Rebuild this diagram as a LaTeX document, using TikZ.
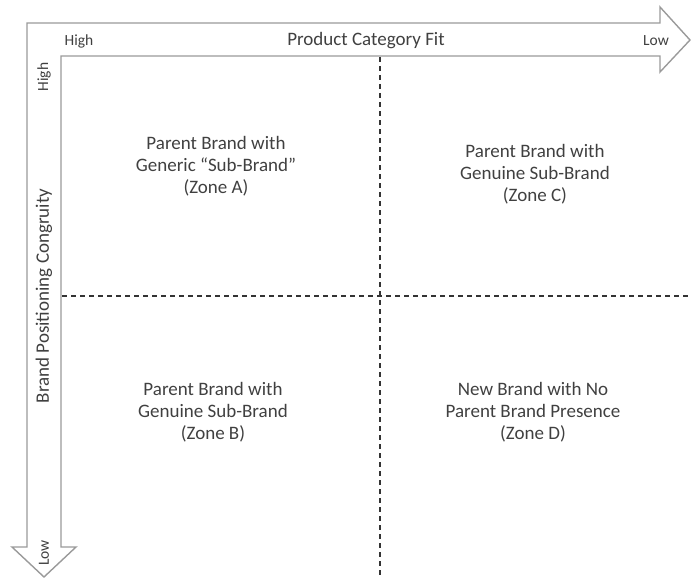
\documentclass[tikz,border=0pt]{standalone}
\usepackage{fontspec}
\setmainfont{Carlito}
\definecolor{edgegray}{HTML}{9A9A9A}
\definecolor{txtgray}{HTML}{404040}
\definecolor{dashgray}{HTML}{333333}
\begin{document}
\begin{tikzpicture}[x=1pt,y=-1pt,
  zone/.style={align=center,text=txtgray,font=\fontsize{19}{22}\selectfont},
  axislab/.style={text=txtgray,font=\fontsize{19}{21}\selectfont},
  small/.style={text=txtgray,font=\fontsize{15.5}{17}\selectfont},
  divider/.style={draw=dashgray,line width=1.3pt,dash pattern=on 5pt off 4pt}]
\useasboundingbox (0,0) rectangle (691,578);
% L-shaped double arrow
\draw[edgegray,line width=1.4pt,line join=miter]
  (27,23) -- (660,23) -- (660,7) -- (690,40) -- (660,72) -- (660,56)
  -- (61,56) -- (61,547) -- (76,547) -- (44,577) -- (12,547) -- (27,547) -- cycle;
% corners for dividers
\coordinate (vtop) at (380,57);
\coordinate (vbot) at (380,578);
\coordinate (hl) at (62,296);
\coordinate (hr) at (691,296);
\draw[divider] (vtop) -- (vbot);
\draw[divider] (hl) -- (hr);
% axis labels
\node[small] (hhigh) at (79,41) {High};
\node[axislab] (pcf) at (366,41) {Product Category Fit};
\node[small] (hlow) at (656,41) {Low};
\node[small,rotate=90] (vhigh) at (44,77) {High};
\node[axislab,rotate=90] (bpc) at (44,296) {Brand Positioning Congruity};
\node[small,rotate=90] (vlow) at (44,553) {Low};
% zones
\node[zone] (za) at (216,166) {Parent Brand with\\Generic “Sub-Brand”\\(Zone A)};
\node[zone] (zc) at (535,174) {Parent Brand with\\Genuine Sub-Brand\\(Zone C)};
\node[zone] (zb) at (213,412) {Parent Brand with\\Genuine Sub-Brand\\(Zone B)};
\node[zone] (zd) at (533,412) {New Brand with No\\Parent Brand Presence\\(Zone D)};
\end{tikzpicture}
\end{document}
